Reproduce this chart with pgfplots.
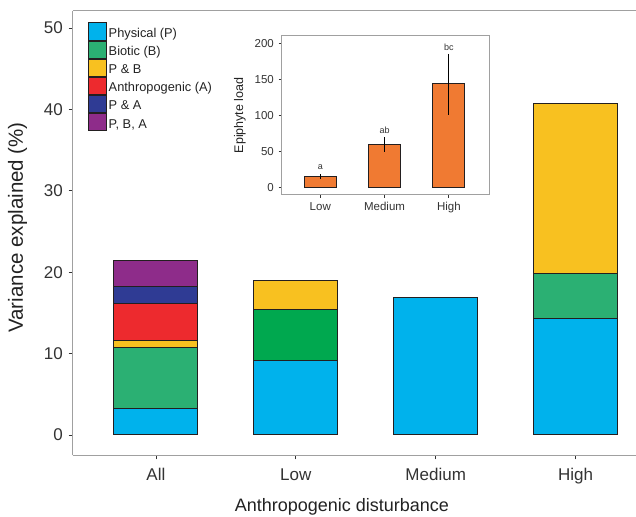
\documentclass[border=0pt]{standalone}
\usepackage{fontspec}
\setmainfont{Liberation Sans}
\usepackage{pgfplots}
\pgfplotsset{compat=1.18}
\definecolor{cPhys}{HTML}{00B2EC}
\definecolor{cBio}{HTML}{2BB073}
\definecolor{cBioLow}{HTML}{00A84F}
\definecolor{cPB}{HTML}{F8C120}
\definecolor{cAnth}{HTML}{ED2A2E}
\definecolor{cPA}{HTML}{2F3B94}
\definecolor{cPBA}{HTML}{8E2C8A}
\definecolor{cEpi}{HTML}{F07A32}
\definecolor{axisgray}{HTML}{A0A0A0}
\definecolor{bardark}{HTML}{231F20}
\definecolor{txt}{HTML}{333333}
\definecolor{ttl}{HTML}{222222}
\begin{document}
\begin{tikzpicture}
\begin{axis}[
  at={(72.7pt,60.7pt)}, anchor=south west, scale only axis,
  width=563.3pt, height=444.3pt,
  ybar stacked, bar width=0.6,
  xmin=-0.595, xmax=3.432, ymin=-2.5, ymax=52.1,
  clip=false,
  axis lines=left,
  axis line style={-, draw=axisgray, line width=1pt},
  tick align=outside,
  major tick length=4pt,
  tick style={draw=txt, line width=0.8pt},
  xtick={0,1,2,3}, xticklabels={All,Low,Medium,High},
  ytick={0,10,20,30,40,50},
  /pgf/number format/assume math mode=true,
  xticklabel style={font=\fontsize{17}{20}\selectfont, text=txt, anchor=base, inner sep=0pt, yshift=-21pt},
  yticklabel style={font=\fontsize{17}{20}\selectfont, text=txt, anchor=east, inner sep=0pt, xshift=-5.7pt},
  every axis y label/.style={at={(rel axis cs:0,0.513)}, xshift=-55.2pt, rotate=90, anchor=center, font=\fontsize{20.5}{24}\selectfont, text=ttl},
  every axis x label/.style={at={(rel axis cs:0.478,0)}, yshift=-56.4pt, anchor=base, font=\fontsize{18}{22}\selectfont, text=ttl},
  ylabel={Variance explained (\%)},
  xlabel={Anthropogenic disturbance},
  legend cell align=left,
  legend style={at={(rel axis cs:0.026,0.9746)}, anchor=north west, draw=none, fill=none,
    row sep=-0.5pt, inner sep=0pt, column sep=1.5pt,
    nodes={inner sep=0.5pt, text height=9pt, text depth=3pt, font=\fontsize{12.8}{15}\selectfont, text=ttl}},
  legend image code/.code={\draw[#1,/tikz/.cd,line width=1pt] (0pt,-5.8pt) rectangle (18.2pt,11.6pt);},
  every axis plot/.append style={draw=bardark, line width=1pt},
]
\addplot[fill=cPhys] coordinates {(0,3.2) (1,9.1) (2,16.9) (3,14.25)};
\addlegendentry{Physical (P)}
\addplot[fill=cBio] coordinates {(0,7.5) (1,0) (2,0) (3,5.6)};
\addlegendentry{Biotic (B)}
\addplot[fill=cBioLow, forget plot] coordinates {(0,0) (1,6.3) (2,0) (3,0)};
\addplot[fill=cPB] coordinates {(0,0.9) (1,3.6) (2,0) (3,20.85)};
\addlegendentry{P \& B}
\addplot[fill=cAnth] coordinates {(0,4.6) (1,0) (2,0) (3,0)};
\addlegendentry{Anthropogenic (A)}
\addplot[fill=cPA] coordinates {(0,2.0) (1,0) (2,0) (3,0)};
\addlegendentry{P \& A}
\addplot[fill=cPBA] coordinates {(0,3.3) (1,0) (2,0) (3,0)};
\addlegendentry{P, B, A}
\draw[axisgray, line width=1pt] (rel axis cs:0,1) -- (rel axis cs:1,1);
\end{axis}

\begin{axis}[
  at={(281.7pt,321pt)}, anchor=south west, scale only axis,
  width=207.3pt, height=159.3pt,
  ybar, bar width=0.5,
  xmin=-0.6, xmax=2.625, ymin=-10.7, ymax=211,
  axis line style={draw=axisgray, line width=1pt},
  tick pos=left, tick align=outside,
  major tick length=3pt,
  tick style={draw=txt, line width=0.7pt},
  xtick={0,1,2}, xticklabels={Low,Medium,High},
  ytick={0,50,100,150,200},
  /pgf/number format/assume math mode=true,
  xticklabel style={font=\fontsize{11.5}{13}\selectfont, text=txt, anchor=base, inner sep=0pt, yshift=-12.8pt},
  yticklabel style={font=\fontsize{11.5}{13}\selectfont, text=txt, anchor=east, inner sep=0pt, xshift=-4.7pt},
  every axis y label/.style={at={(rel axis cs:0,0.5)}, xshift=-41.7pt, rotate=90, anchor=center, font=\fontsize{12.5}{15}\selectfont, text=ttl},
  ylabel={Epiphyte load},
]
\addplot[fill=cEpi, draw=bardark, line width=1pt,
  error bars/.cd, y dir=both, y explicit, error mark=none,
  error bar style={draw=black, line width=1pt}]
  coordinates {(0,15) += (0,3) -= (0,4)
               (1,60) += (0,10) -= (0,11)
               (2,144) += (0,42) -= (0,43)};
\node[font=\fontsize{9}{10}\selectfont, text=txt] at (axis cs:0,28.7) {a};
\node[font=\fontsize{9}{10}\selectfont, text=txt] at (axis cs:1,80) {ab};
\node[font=\fontsize{9}{10}\selectfont, text=txt] at (axis cs:2,195) {bc};
\end{axis}
\pgfresetboundingbox
\path[use as bounding box] (0,0) rectangle (636pt,516pt);
\end{tikzpicture}
\end{document}
